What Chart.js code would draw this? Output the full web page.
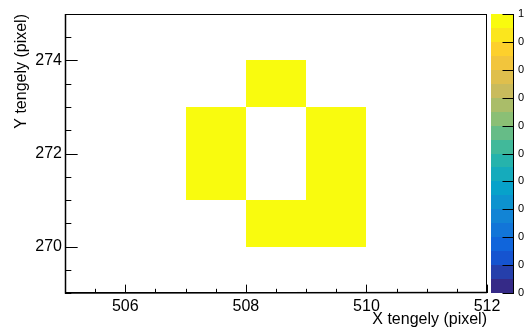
<!DOCTYPE html>
<html><head><meta charset="utf-8">
<script src="https://cdn.jsdelivr.net/npm/chart.js@4/dist/chart.umd.min.js"></script>
<style>html,body{margin:0;padding:0;background:#fff;overflow:hidden}canvas{display:block}</style>
</head><body>
<canvas id="c" width="524" height="329"></canvas>
<script>
// ---- data ----
const cellX = [508, 507, 507, 509, 509, 508, 509];   // bin lower edges (X)
const cellY = [273, 272, 271, 272, 271, 270, 270];   // bin lower edges (Y)
const cellValues = [1, 1, 1, 1, 1, 1, 1];
const xRange = [505, 512];
const yRange = [269, 275];
const zRange = [0, 1];
const xTicks = [506, 508, 510, 512];
const yTicks = [270, 272, 274];
const zTicks = [0, 0.1, 0.2, 0.3, 0.4, 0.5, 0.6, 0.7, 0.8, 0.9, 1];
const zTickLabels = ['0', '0.1', '0.2', '0.3', '0.4', '0.5', '0.6', '0.7', '0.8', '0.9', '1'];
const xTitle = 'X tengely (pixel)';
const yTitle = 'Y tengely (pixel)';

// ---- palette (kBird, 20 levels) ----
const birdStops = [0, 0.125, 0.25, 0.375, 0.5, 0.625, 0.75, 0.875, 1];
const birdR = [0.2082, 0.0592, 0.0780, 0.0232, 0.1802, 0.5301, 0.8186, 0.9956, 0.9764];
const birdG = [0.1664, 0.3599, 0.5041, 0.6419, 0.7178, 0.7492, 0.7328, 0.7862, 0.9832];
const birdB = [0.5293, 0.8684, 0.8385, 0.7914, 0.6425, 0.4662, 0.3499, 0.1968, 0.0539];
const NLEV = 20;
function bird(t) {
  let k = 0;
  while (k < birdStops.length - 2 && t > birdStops[k + 1]) k++;
  const f = (t - birdStops[k]) / (birdStops[k + 1] - birdStops[k]);
  const c = a => Math.round(255 * (a[k] + (a[k + 1] - a[k]) * f));
  return `rgb(${c(birdR)},${c(birdG)},${c(birdB)})`;
}
const levelColors = [];
for (let i = 0; i < NLEV; i++) levelColors.push(bird(i / (NLEV - 1)));
function colorFor(v) {
  const f = (v - zRange[0]) / (zRange[1] - zRange[0]);
  return levelColors[Math.max(0, Math.min(NLEV - 1, Math.floor(f * NLEV)))];
}

const FONT = 'Liberation Sans, Arial, Helvetica, sans-serif';

const histPlugin = {
  id: 'hist2d',
  beforeDatasetsDraw(chart) {
    const ctx = chart.ctx, xs = chart.scales.x, ys = chart.scales.y, a = chart.chartArea;
    const ds = chart.data.datasets[0];
    ctx.save();
    ctx.beginPath(); ctx.rect(a.left, a.top, a.right - a.left, a.bottom - a.top); ctx.clip();
    ds.data.forEach(p => {
      const x0 = Math.round(xs.getPixelForValue(p.x - 0.5)), x1 = Math.round(xs.getPixelForValue(p.x + 0.5));
      const y0 = Math.round(ys.getPixelForValue(p.y + 0.5)), y1 = Math.round(ys.getPixelForValue(p.y - 0.5));
      ctx.fillStyle = colorFor(p.v);
      ctx.fillRect(x0, y0, x1 - x0, y1 - y0);
    });
    ctx.restore();
  },
  afterDraw(chart) {
    const ctx = chart.ctx, xs = chart.scales.x, ys = chart.scales.y, zs = chart.scales.z, a = chart.chartArea;
    ctx.save();
    // frame
    ctx.strokeStyle = '#000';
    ctx.lineWidth = 1;
    ctx.strokeRect(a.left + 0.5, a.top + 0.5, a.right - a.left - 1, a.bottom - a.top - 1);
    ctx.lineWidth = 1.5;
    ctx.beginPath();
    ctx.moveTo(a.left + 0.5, a.top); ctx.lineTo(a.left + 0.5, a.bottom);
    ctx.lineTo(a.right, a.bottom - 0.5);
    ctx.stroke();
    // ticks (inside)
    ctx.lineWidth = 1;
    const h = a.bottom - a.top, w = a.right - a.left;
    const xMaj = 0.03 * h, yMaj = 0.03 * w;
    ctx.beginPath();
    for (let v = xRange[0]; v <= xRange[1] + 1e-9; v += 0.5) {
      const px = Math.round(xs.getPixelForValue(v)) + 0.5;
      const len = xTicks.includes(v) ? xMaj : xMaj / 2;
      ctx.moveTo(px, a.bottom); ctx.lineTo(px, a.bottom - len);
    }
    for (let v = yRange[0]; v <= yRange[1] + 1e-9; v += 0.5) {
      const py = Math.round(ys.getPixelForValue(v)) + 0.5;
      const len = yTicks.includes(v) ? yMaj : yMaj / 2;
      ctx.moveTo(a.left, py); ctx.lineTo(a.left + len, py);
    }
    ctx.stroke();
    // colour bar
    const bl = 491, br = 514;
    for (let i = 0; i < NLEV; i++) {
      const z0 = zRange[0] + (zRange[1] - zRange[0]) * i / NLEV;
      const z1 = zRange[0] + (zRange[1] - zRange[0]) * (i + 1) / NLEV;
      const y0 = Math.round(zs.getPixelForValue(z1)), y1 = Math.round(zs.getPixelForValue(z0));
      ctx.fillStyle = levelColors[i];
      ctx.fillRect(bl, y0, br - bl, y1 - y0);
    }
    ctx.strokeStyle = '#000';
    ctx.lineWidth = 1;
    ctx.beginPath();
    zTicks.forEach(v => {
      const py = Math.round(zs.getPixelForValue(v)) + 0.5;
      ctx.moveTo(br - 11.5, py); ctx.lineTo(br, py);
    });
    ctx.moveTo(br - 0.5, zs.getPixelForValue(zRange[1])); ctx.lineTo(br - 0.5, zs.getPixelForValue(zRange[0]));
    ctx.stroke();
    ctx.fillStyle = '#000';
    ctx.font = '11px ' + FONT;
    ctx.textAlign = 'left';
    ctx.textBaseline = 'middle';
    zTicks.forEach((v, i) => ctx.fillText(zTickLabels[i], 518, zs.getPixelForValue(v)));
    ctx.restore();
  }
};

const cellData = cellX.map((x, i) => ({ x: x + 0.5, y: cellY[i] + 0.5, v: cellValues[i] }));

new Chart(document.getElementById('c'), {
  type: 'scatter',
  data: { datasets: [{ data: cellData, pointRadius: 0, pointHoverRadius: 0, showLine: false }] },
  options: {
    responsive: false,
    animation: false,
    events: [],
    layout: { padding: { top: 14, right: 37, left: 0, bottom: 0 } },
    plugins: { legend: { display: false }, tooltip: { enabled: false } },
    scales: {
      x: {
        type: 'linear', min: xRange[0], max: xRange[1],
        afterBuildTicks: s => { s.ticks = xTicks.map(v => ({ value: v })); },
        afterFit: s => { s.height = 36; },
        grid: { display: false, drawTicks: false },
        border: { display: false },
        ticks: { color: '#000', padding: 4, maxRotation: 0, autoSkip: false, font: { family: FONT, size: 16 } },
        title: { display: true, text: xTitle, align: 'end', color: '#000', padding: 0, font: { family: FONT, size: 16 } }
      },
      y: {
        type: 'linear', min: yRange[0], max: yRange[1],
        afterBuildTicks: s => { s.ticks = yTicks.map(v => ({ value: v })); },
        afterFit: s => { s.width = 65; },
        grid: { display: false, drawTicks: false },
        border: { display: false },
        ticks: { color: '#000', padding: 3, autoSkip: false, font: { family: FONT, size: 16 } },
        title: { display: true, text: yTitle, align: 'end', color: '#000', padding: { top: 12, bottom: 0 }, font: { family: FONT, size: 16 } }
      },
      z: { type: 'linear', position: 'right', min: zRange[0], max: zRange[1], display: false }
    }
  },
  plugins: [histPlugin]
});
</script>
</body></html>
